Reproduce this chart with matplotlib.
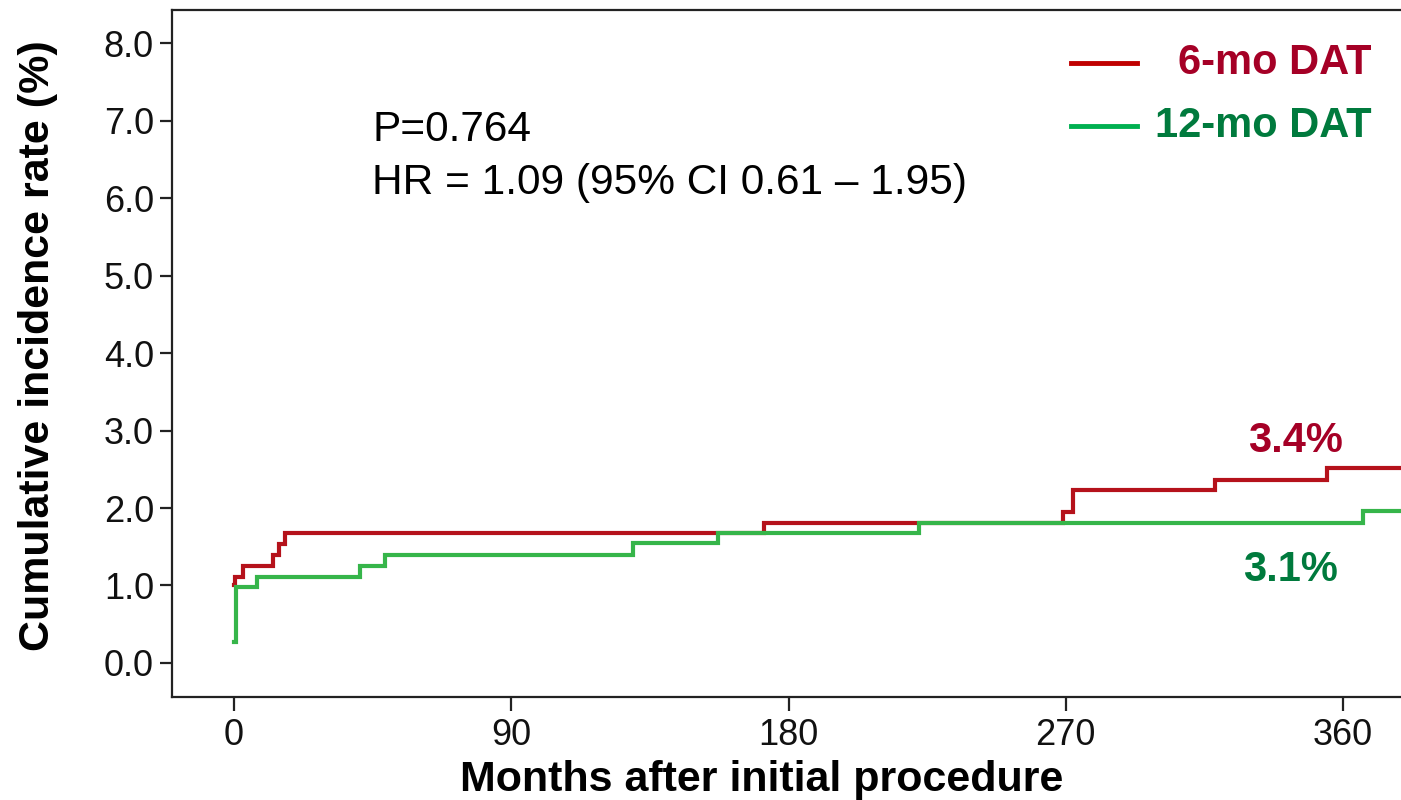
import numpy as np
import matplotlib
matplotlib.use("Agg")
import matplotlib.pyplot as plt
from matplotlib.lines import Line2D

plt.rcParams.update({"font.family": ["Liberation Sans", "DejaVu Sans"]})

# Kaplan-Meier style cumulative incidence (step curves)
t_6mo = [0, 0.3, 2.9, 12.7, 14.6, 16.6, 172, 269, 272.3, 318.4, 354.8, 380]
y_6mo = [1.00, 1.11, 1.25, 1.39, 1.53, 1.68, 1.81, 1.95, 2.23, 2.36, 2.52, 2.52]

t_12mo = [0, 0.6, 7.5, 41, 49, 129.5, 157, 222.5, 366.5, 380]
y_12mo = [0.27, 0.98, 1.11, 1.25, 1.39, 1.55, 1.68, 1.81, 1.96, 1.96]

x_ticks = [0, 90, 180, 270, 360]
y_ticks = [0, 1, 2, 3, 4, 5, 6, 7, 8]

RED_LINE, GREEN_LINE = "#b5121b", "#36b54a"
RED_TXT, GREEN_TXT = "#a50026", "#007a3d"

W, H = 1401, 800
fig = plt.figure(figsize=(W / 100, H / 100), dpi=100)
ax = fig.add_axes([172 / W, 1 - 697 / H, 1 - 172 / W, (697 - 10) / H])


def fx(px):
    return px / W


def fy(py):
    return 1 - py / H


ax.step(t_6mo, y_6mo, where="post", color=RED_LINE, lw=3, solid_joinstyle="miter")
ax.step(t_12mo, y_12mo, where="post", color=GREEN_LINE, lw=3, solid_joinstyle="miter")

ax.set_xlim(-20.1, 378.8)
ax.set_ylim(-0.44, 8.43)
ax.set_xticks(x_ticks)
ax.set_yticks(y_ticks)
ax.set_yticklabels([f"{v:.1f}" for v in y_ticks])
ax.tick_params(axis="both", labelsize=26, width=1.6, color="#222222",
               labelcolor="#111111")
ax.tick_params(axis="x", length=10, pad=5)
ax.tick_params(axis="y", length=9, pad=4)
for side in ("left", "bottom", "top"):
    ax.spines[side].set_linewidth(1.6)
    ax.spines[side].set_color("#222222")
ax.spines["right"].set_visible(False)

ax.set_ylabel("Cumulative incidence rate (%)", fontsize=31, fontweight="bold")
ax.yaxis.set_label_coords((58 - 172) / 1229, 1 - (346 - 10) / 687)
ax.set_xlabel("Months after initial procedure", fontsize=31, fontweight="bold")
ax.xaxis.set_label_coords((762 - 172) / 1229, -0.092)

# statistics
fig.text(fx(372), fy(130), "P=0.764", fontsize=30.5, va="center", ha="left")
fig.text(fx(372), fy(183), "HR = 1.09 (95% CI 0.61 \u2013 1.95)",
         fontsize=30.5, va="center", ha="left")

# end-of-follow-up rates
fig.text(fx(1295), fy(441), "3.4%", fontsize=30, fontweight="bold",
         color=RED_TXT, ha="center", va="center")
fig.text(fx(1290), fy(570), "3.1%", fontsize=30, fontweight="bold",
         color=GREEN_TXT, ha="center", va="center")

# legend drawn by hand (right-aligned labels)
for y_px, col, tcol, lab in [(63, "#c00000", RED_TXT, "6-mo DAT"),
                             (126, "#00b050", GREEN_TXT, "12-mo DAT")]:
    fig.add_artist(Line2D([fx(1071), fx(1137)], [fy(y_px), fy(y_px)], color=col,
                          lw=3.5, transform=fig.transFigure))
    fig.text(fx(1372), fy(y_px), lab, fontsize=30, fontweight="bold", color=tcol,
             ha="right", va="center")

fig.savefig("out.png", dpi=100)
